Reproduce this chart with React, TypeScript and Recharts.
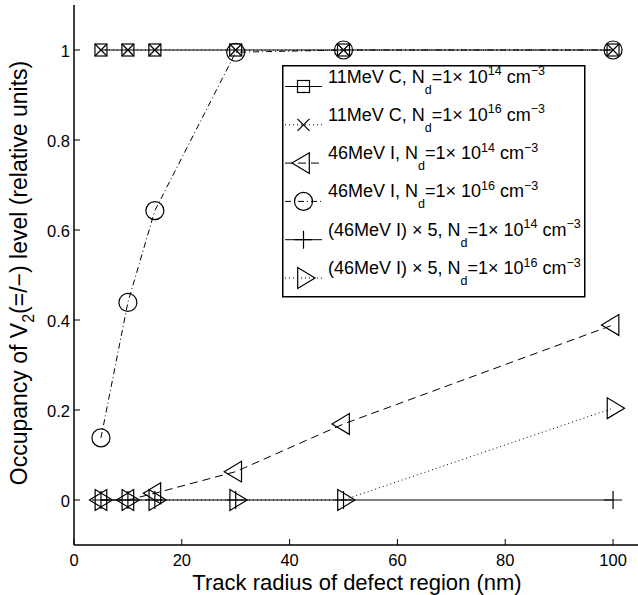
import React from 'react';
import { LineChart, Line, XAxis, YAxis, Legend, Label } from 'recharts';

// ---------- data ----------
const radii = [5, 10, 15, 30, 50, 100];
const c11Low = [1, 1, 1, 1, 1, 1];
const c11High = [1, 1, 1, 1, 1, 1];
const i46Low = [0, 0, 0.015, 0.063, 0.169, 0.389];
const i46High = [0.138, 0.439, 0.643, 0.995, 1, 1];
const i46x5Low = [0, 0, 0, 0, 0, 0];
const i46x5High = [0, 0, 0, 0, 0, 0.204];

const xTicks = [0, 20, 40, 60, 80, 100];
const yTicks = [0, 0.2, 0.4, 0.6, 0.8, 1];
const xDomain = [0, 105];
const yDomain = [-0.1, 1.1];

const seriesKeys = ['c11Low', 'c11High', 'i46Low', 'i46High', 'i46x5Low', 'i46x5High'];
const seriesIons = ['11MeV C', '11MeV C', '46MeV I', '46MeV I', '(46MeV I) \u00d7 5', '(46MeV I) \u00d7 5'];
const seriesExps = ['14', '16', '14', '16', '14', '16'];
const seriesMarkers = ['square', 'x', 'left', 'circle', 'plus', 'right'];
const seriesDash = ['', '1 3', '8 5', '6 3 1 3', '', '1 3'];

const xTitle = 'Track radius of defect region (nm)';

const data = radii.map((r, i) => ({
  r,
  c11Low: c11Low[i],
  c11High: c11High[i],
  i46Low: i46Low[i],
  i46High: i46High[i],
  i46x5Low: i46x5Low[i],
  i46x5High: i46x5High[i],
}));

// ---------- styling ----------
const FONT = '"Liberation Sans", Arial, Helvetica, sans-serif';
const TICK_FS = 16.5;
const TITLE_FS = 22;
const TICK_LEN = 6;
const AXIS_W = 1.5;

function marker(kind: string, cx: number, cy: number, key?: any) {
  const c = { fill: 'none', stroke: '#000', strokeWidth: 1.2 };
  switch (kind) {
    case 'square':
      return <rect key={key} x={cx - 6} y={cy - 6} width={12} height={12} {...c} />;
    case 'x':
      return (
        <path key={key} d={`M${cx - 6},${cy - 6}L${cx + 6},${cy + 6}M${cx - 6},${cy + 6}L${cx + 6},${cy - 6}`} {...c} />
      );
    case 'left':
      return <path key={key} d={`M${cx - 11.5},${cy}L${cx + 5.8},${cy - 10.4}L${cx + 5.8},${cy + 10.4}Z`} {...c} />;
    case 'right':
      return <path key={key} d={`M${cx + 11.5},${cy}L${cx - 5.8},${cy - 10.4}L${cx - 5.8},${cy + 10.4}Z`} {...c} />;
    case 'circle':
      return <circle key={key} cx={cx} cy={cy} r={9} {...c} />;
    case 'plus':
      return <path key={key} d={`M${cx - 9},${cy}L${cx + 9},${cy}M${cx},${cy - 9}L${cx},${cy + 9}`} {...c} />;
    default:
      return <g key={key} />;
  }
}

const BottomTick = (p: any) => {
  const { x, y, payload } = p;
  return (
    <g>
      <line x1={x} x2={x} y1={y} y2={y - TICK_LEN} stroke="#000" strokeWidth={1} />
      <text x={x} y={y + 21} textAnchor="middle" fontSize={TICK_FS} fontFamily={FONT} fill="#000">
        {String(payload.value)}
      </text>
    </g>
  );
};

const LeftTick = (p: any) => {
  const { x, y, payload } = p;
  return (
    <g>
      <line x1={x} x2={x + TICK_LEN} y1={y} y2={y} stroke="#000" strokeWidth={1} />
      <text x={x - 4} y={y + 6.5} textAnchor="end" fontSize={TICK_FS} fontFamily={FONT} fill="#000">
        {String(payload.value)}
      </text>
    </g>
  );
};

const TopTick = (p: any) => {
  const { x, y } = p;
  return <line x1={x} x2={x} y1={y} y2={y + TICK_LEN} stroke="#000" strokeWidth={1} />;
};

const RightTick = (p: any) => {
  const { x, y } = p;
  return <line x1={x} x2={x - TICK_LEN} y1={y} y2={y} stroke="#000" strokeWidth={1} />;
};

const XTitle = (props: any) => {
  const vb = props.viewBox || { x: 74, y: 545, width: 566, height: 50 };
  return (
    <text x={vb.x + vb.width / 2} y={vb.y + vb.height - 5.5} textAnchor="middle" fontSize={TITLE_FS} fontFamily={FONT} fill="#000">
      {xTitle}
    </text>
  );
};

const YTitle = (props: any) => {
  const vb = props.viewBox || { x: 0, y: 5, width: 74, height: 540 };
  const x = 27;
  const y = vb.y + vb.height / 2 - 2;
  return (
    <text x={x} y={y} transform={`rotate(-90 ${x} ${y})`} textAnchor="middle" fontSize={23} fontFamily={FONT} fill="#000">
      Occupancy of V
      <tspan dy={7} fontSize={16}>2</tspan>
      <tspan dy={-7}>(=/{'\u2212'}) level (relative units)</tspan>
    </text>
  );
};

const LegendBox = () => {
  const rowY0 = 21.5;
  const rowStep = 38.3;
  const SUB = 11;
  const SUP = 7.5;
  const FS = 18;
  const SFS = 12.5;
  return (
    <svg width={304} height={233} style={{ display: 'block' }}>
      <rect x={0.75} y={0.75} width={302} height={231} fill="#fff" stroke="#000" strokeWidth={1.5} />
      {seriesKeys.map((k, i) => {
        const ly = rowY0 + i * rowStep;
        return (
          <g key={k}>
            <line x1={3} x2={40} y1={ly} y2={ly} stroke="#000" strokeWidth={1} strokeDasharray={seriesDash[i] || undefined} />
            {marker(seriesMarkers[i], 21.5, ly)}
            <text x={46} y={ly - 4} fontSize={FS} fontFamily={FONT} fill="#000">
              <tspan>{seriesIons[i]}, N</tspan>
              <tspan dy={SUB} fontSize={SFS}>d</tspan>
              <tspan dy={-SUB}>=1{'\u00d7'} 10</tspan>
              <tspan dy={-SUP} fontSize={SFS}>{seriesExps[i]}</tspan>
              <tspan dy={SUP}> cm</tspan>
              <tspan dy={-SUP} fontSize={SFS}>{'\u2212'}3</tspan>
            </text>
          </g>
        );
      })}
    </svg>
  );
};

export default function App() {
  return (
    <div style={{ position: 'absolute', left: 0, top: 0, width: 638, height: 595, background: '#fff', fontFamily: FONT }}>
      <LineChart width={638} height={595} data={data} margin={{ top: 5, right: -2, bottom: 0, left: 0 }}>
        <XAxis
          xAxisId="b"
          dataKey="r"
          type="number"
          domain={xDomain}
          ticks={xTicks}
          interval={0}
          allowDataOverflow
          height={50}
          tickSize={0}
          tickMargin={0}
          tickLine={false}
          tick={BottomTick}
          axisLine={{ stroke: '#000', strokeWidth: AXIS_W }}
        >
          <Label content={XTitle} />
        </XAxis>
        <XAxis
          xAxisId="t"
          orientation="top"
          dataKey="r"
          type="number"
          domain={xDomain}
          ticks={xTicks}
          interval={0}
          allowDataOverflow
          height={0}
          tickSize={0}
          tickMargin={0}
          tickLine={false}
          tick={TopTick}
          axisLine={{ stroke: '#000', strokeWidth: AXIS_W }}
        />
        <YAxis
          yAxisId="l"
          type="number"
          domain={yDomain}
          ticks={yTicks}
          interval={0}
          allowDataOverflow
          width={74}
          tickSize={0}
          tickMargin={0}
          tickLine={false}
          tick={LeftTick}
          axisLine={{ stroke: '#000', strokeWidth: AXIS_W }}
        >
          <Label content={YTitle} />
        </YAxis>
        <YAxis
          yAxisId="r"
          orientation="right"
          type="number"
          domain={yDomain}
          ticks={yTicks}
          interval={0}
          allowDataOverflow
          width={0}
          tickSize={0}
          tickMargin={0}
          tickLine={false}
          tick={RightTick}
          axisLine={{ stroke: '#000', strokeWidth: AXIS_W }}
        />
        {seriesKeys.map((k, i) => (
          <Line
            key={k}
            xAxisId="b"
            yAxisId="l"
            type="linear"
            dataKey={k}
            name={`${seriesIons[i]}, Nd=1e${seriesExps[i]}`}
            stroke="#000"
            strokeWidth={1}
            strokeDasharray={seriesDash[i] || undefined}
            dot={(p: any) => marker(seriesMarkers[i], p.cx, p.cy, `${k}-${p.index}`)}
            activeDot={false}
            isAnimationActive={false}
          />
        ))}
        <Legend
          layout="horizontal"
          verticalAlign="middle"
          align="center"
          wrapperStyle={{ position: 'absolute', left: 282, top: 65, width: 304, height: 233 }}
          content={() => <LegendBox />}
        />
      </LineChart>
    </div>
  );
}
